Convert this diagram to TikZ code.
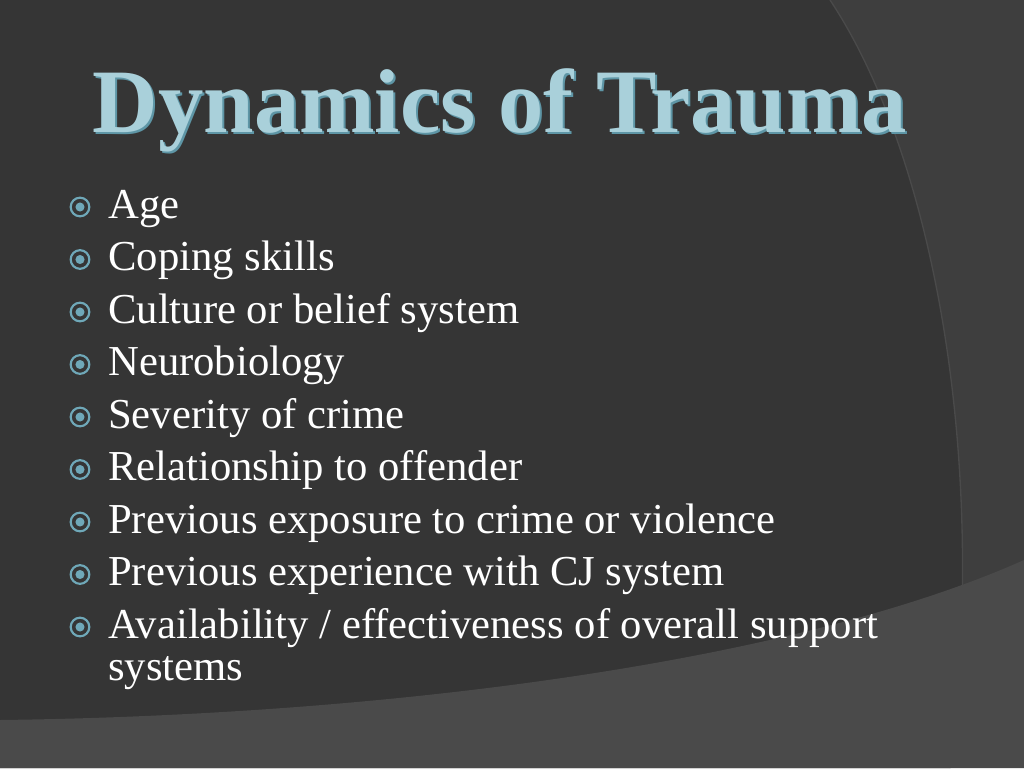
\documentclass[tikz,border=0pt]{standalone}
\usepackage{fontspec}
\setmainfont{Liberation Serif}
\usetikzlibrary{positioning}
\definecolor{bgdark}{HTML}{353535}
\definecolor{bgmid}{HTML}{3E3E3E}
\definecolor{bglight}{HTML}{4A4A4A}
\definecolor{titleblue}{HTML}{A9D0DA}
\definecolor{titleshade}{HTML}{5E96A6}
\definecolor{bulletblue}{HTML}{6FA8B8}
\tikzset{
  item/.style={anchor=base west, text=white, font=\fontsize{32}{38}\selectfont, inner sep=0pt},
  dot/.style={circle, draw=bulletblue, line width=1.6pt, minimum size=14pt, inner sep=0pt,
    path picture={\fill[bulletblue] (path picture bounding box.center) circle (3.4pt);}},
}
\begin{document}
\begin{tikzpicture}[x=0.75pt,y=0.75pt,yscale=-1]
\useasboundingbox (0,0) rectangle (1024,768);

%Background
\fill[bgmid] (0,0) rectangle (1024,768);
\fill[bgdark] (0,0) -- (830,0) .. controls (930,150) and (990,450) .. (950,768) -- (0,768) -- cycle;
\fill[bglight] (0,768) -- (0,720) .. controls (400,715) and (800,660) .. (1024,560) -- (1024,768) -- cycle;
\draw[bglight, line width=1pt] (830,0) .. controls (930,150) and (990,450) .. (950,768);

%Title
\node[font=\fontsize{68}{72}\selectfont\bfseries, text=titleshade] at (502,112) {Dynamics of Trauma};
\node[font=\fontsize{68}{72}\selectfont\bfseries, text=titleblue] (title) at (500,110) {Dynamics of Trauma};

%Bullets
\foreach \txt [count=\i] in {Age, Coping skills, Culture or belief system, Neurobiology,
    Severity of crime, Relationship to offender, Previous exposure to crime or violence,
    Previous experience with CJ system, Availability / effectiveness of overall support} {
  \node[item] (item\i) at (108,{218+52.5*(\i-1)}) {\txt};
  \node[dot] (dot\i) at (80,{207+52.5*(\i-1)}) {};
}
\node[item] (item10) at (108,680) {systems};
\end{tikzpicture}
\end{document}
